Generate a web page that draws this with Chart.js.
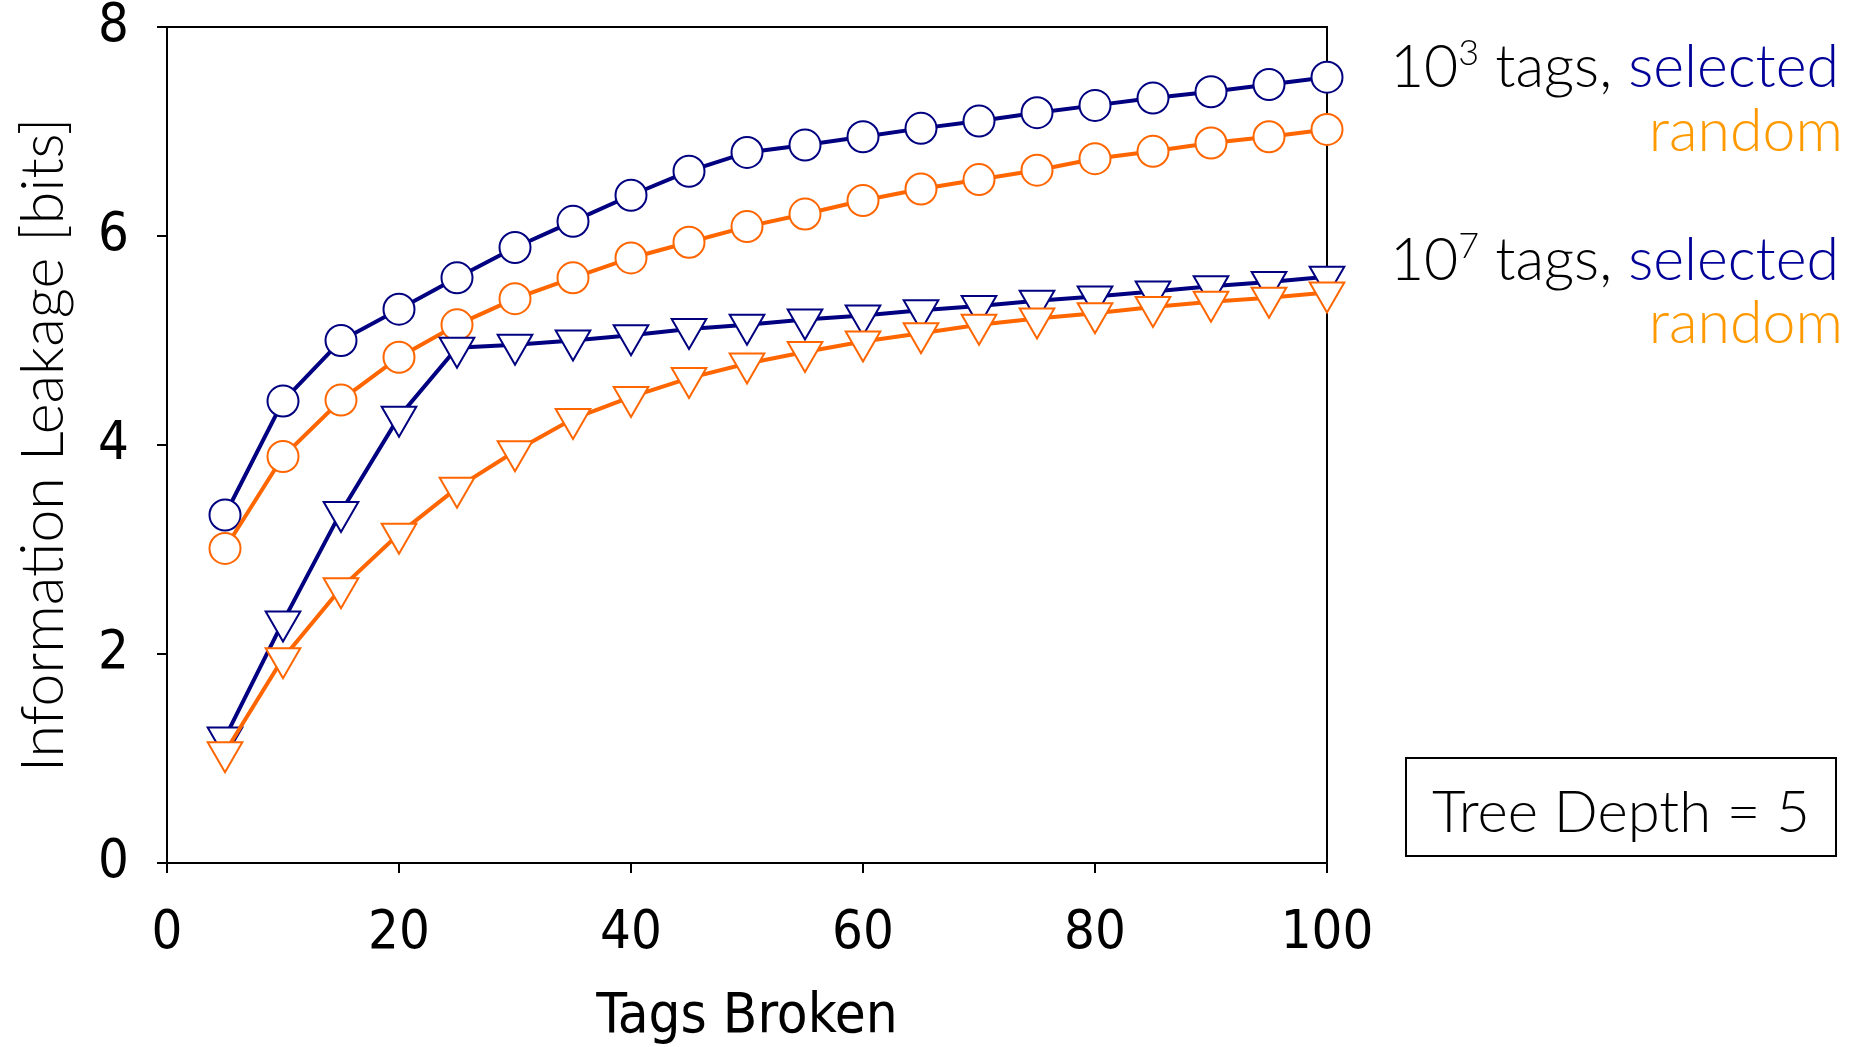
<!DOCTYPE html>
<html>
<head>
<meta charset="utf-8">
<script src="https://cdn.jsdelivr.net/npm/chart.js@4.4.1/dist/chart.umd.min.js"></script>
<style>
  html, body { margin: 0; padding: 0; background: #fff; }
  #caja { width: 1866px; height: 1047px; }
</style>
</head>
<body>
<div id="caja"><canvas id="grafica" width="1866" height="1047"></canvas></div>
<script>
// datos
const tagsBroken = [5, 10, 15, 20, 25, 30, 35, 40, 45, 50, 55, 60, 65, 70, 75, 80, 85, 90, 95, 100];
const selected1e3 = [3.33, 4.42, 5.00, 5.30, 5.60, 5.89, 6.14, 6.39, 6.62, 6.80, 6.87, 6.95, 7.03, 7.10, 7.18, 7.25, 7.32, 7.38, 7.45, 7.52];
const random1e3 = [3.01, 3.89, 4.43, 4.84, 5.15, 5.40, 5.60, 5.79, 5.94, 6.09, 6.21, 6.34, 6.45, 6.54, 6.63, 6.74, 6.81, 6.89, 6.95, 7.02];
const selected1e7 = [1.20, 2.31, 3.36, 4.27, 4.93, 4.96, 5.00, 5.05, 5.11, 5.15, 5.20, 5.24, 5.29, 5.33, 5.38, 5.42, 5.47, 5.52, 5.56, 5.61];
const random1e7 = [1.06, 1.96, 2.63, 3.15, 3.59, 3.94, 4.25, 4.46, 4.64, 4.78, 4.89, 4.99, 5.07, 5.15, 5.21, 5.26, 5.32, 5.37, 5.41, 5.46];
const xTicks = [0, 20, 40, 60, 80, 100];
const yTicks = [0, 2, 4, 6, 8];

const azul = '#000080';
const naranja = '#FF6600';
const azulTexto = '#000099';
const naranjaTexto = '#FF9900';

const fuente = 'Lato';
const fuenteNarrow = '"Liberation Sans Narrow", "DejaVu Sans Condensed", sans-serif';

function puntos(ys) {
    return tagsBroken.map((x, i) => ({ x: x, y: ys[i] }));
}

function serie(ys, color, forma, radio, orden) {
    return {
        data: puntos(ys),
        borderColor: color,
        borderWidth: 4,
        pointStyle: forma,
        pointRadius: radio,
        pointRotation: forma === 'triangle' ? 180 : 0,
        pointBackgroundColor: '#fff',
        pointBorderColor: color,
        pointBorderWidth: 2,
        tension: 0,
        clip: false,
        order: orden
    };
}

// escribe una linea de texto con partes de colores, alineada a la derecha
function lineaDerecha(ctx, partes, xDer, y) {
    let total = 0;
    partes.forEach(p => {
        ctx.font = '300 ' + p.size + 'px ' + fuente;
        p.w = ctx.measureText(p.text).width;
        total += p.w;
    });
    let x = xDer - total;
    partes.forEach(p => {
        ctx.font = '300 ' + p.size + 'px ' + fuente;
        ctx.fillStyle = p.color;
        ctx.fillText(p.text, x, y - (p.up || 0));
        x += p.w;
    });
}

const extras = {
    id: 'extras',
    beforeDatasetsDraw(chart) {
        const ctx = chart.ctx;
        const a = chart.chartArea;
        ctx.save();
        ctx.strokeStyle = '#000';
        ctx.lineWidth = 2;
        ctx.beginPath();
        ctx.moveTo(a.left, a.top);
        ctx.lineTo(a.right, a.top);
        ctx.lineTo(a.right, a.bottom);
        ctx.stroke();
        ctx.restore();
    },
    afterDraw(chart) {
        const ctx = chart.ctx;
        ctx.save();
        ctx.textBaseline = 'alphabetic';
        ctx.textAlign = 'left';
        lineaDerecha(ctx, [
            { text: '10', color: '#000', size: 59 },
            { text: '3', color: '#000', size: 36, up: 22 },
            { text: ' tags, ', color: '#000', size: 59 },
            { text: 'selected', color: azulTexto, size: 59 }
        ], 1839, 87);
        lineaDerecha(ctx, [{ text: 'random', color: naranjaTexto, size: 59 }], 1843, 151);
        lineaDerecha(ctx, [
            { text: '10', color: '#000', size: 59 },
            { text: '7', color: '#000', size: 36, up: 22 },
            { text: ' tags, ', color: '#000', size: 59 },
            { text: 'selected', color: azulTexto, size: 59 }
        ], 1839, 280);
        lineaDerecha(ctx, [{ text: 'random', color: naranjaTexto, size: 59 }], 1843, 343);

        // caja Tree Depth
        ctx.strokeStyle = '#000';
        ctx.lineWidth = 2;
        ctx.strokeRect(1406, 758, 430, 98);
        ctx.font = '300 58px ' + fuente;
        ctx.fillStyle = '#000';
        ctx.textAlign = 'center';
        ctx.fillText('Tree Depth = 5', 1621, 832);
        ctx.restore();
    }
};

new Chart(document.getElementById('grafica'), {
    type: 'line',
    data: {
        datasets: [
            serie(selected1e3, azul, 'circle', 15.5, 3),
            serie(random1e3, naranja, 'circle', 15.5, 2),
            serie(selected1e7, azul, 'triangle', 20, 1),
            serie(random1e7, naranja, 'triangle', 20, 0)
        ]
    },
    options: {
        responsive: false,
        animation: false,
        layout: { padding: { left: 0, top: 27, right: 539, bottom: 0 } },
        plugins: {
            legend: { display: false },
            tooltip: { enabled: false }
        },
        scales: {
            x: {
                type: 'linear',
                min: 0,
                max: 100,
                afterBuildTicks: (axis) => { axis.ticks = xTicks.map(v => ({ value: v })); },
                afterFit: (axis) => { axis.height = 184; axis.paddingLeft = 0; axis.paddingRight = 0; },
                border: { display: true, color: '#000', width: 2 },
                grid: { display: true, drawOnChartArea: false, drawTicks: true, tickLength: 10, color: '#000', lineWidth: 2 },
                ticks: { color: '#000', padding: 34, maxRotation: 0, font: { family: fuenteNarrow, size: 54, lineHeight: 1 } },
                title: { display: true, text: 'Tags Broken', color: '#000', padding: { bottom: 2 }, font: { family: fuenteNarrow, size: 56, lineHeight: 1 } }
            },
            y: {
                min: 0,
                max: 8,
                afterBuildTicks: (axis) => { axis.ticks = yTicks.map(v => ({ value: v })); },
                afterFit: (axis) => { axis.width = 167; axis.paddingTop = 0; axis.paddingBottom = 0; },
                border: { display: true, color: '#000', width: 2 },
                grid: { display: true, drawOnChartArea: false, drawTicks: true, tickLength: 10, color: '#000', lineWidth: 2 },
                ticks: { color: '#000', padding: 28, font: { family: fuenteNarrow, size: 54, lineHeight: 1 } },
                title: { display: true, text: 'Information Leakage [bits]', color: '#000', padding: { top: 9 }, font: { family: fuente, size: 59, weight: 300 } }
            }
        }
    },
    plugins: [extras]
});
</script>
</body>
</html>
